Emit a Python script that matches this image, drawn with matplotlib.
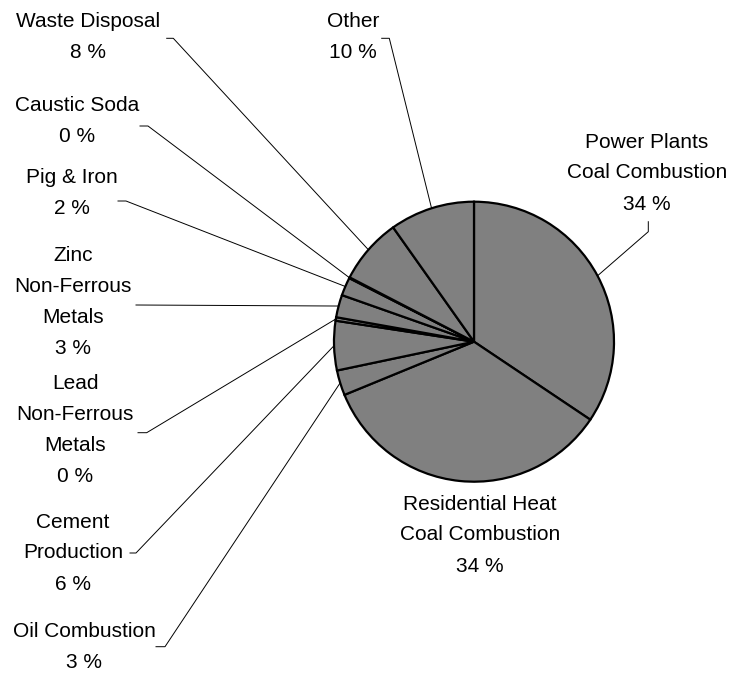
import matplotlib
matplotlib.use("Agg")
import matplotlib.pyplot as plt
import numpy as np

# ─── data ───
sources = [
    "Power Plants\nCoal Combustion",
    "Residential Heat\nCoal Combustion",
    "Oil Combustion",
    "Cement\nProduction",
    "Lead\nNon-Ferrous\nMetals",
    "Zinc\nNon-Ferrous\nMetals",
    "Pig & Iron",
    "Caustic Soda",
    "Waste Disposal",
    "Other",
]
shares = [34.4, 34.4, 2.9, 5.7, 0.4, 2.6, 2.1, 0.1, 7.6, 9.8]

# ─── layout (pixel coords, y from top) ───
W, H = 731, 675
CX, CY, R = 474, 341.7, 140
# label block centre, leader polyline from label side (None = no leader)
label_pos = [
    (647, 173), (480, 535), (84, 647), (73, 553), (75, 430),
    (73, 302), (72, 193), (77, 121), (88, 37), (353, 37),
]
leaders = [
    [(648.3, 221.7), (648.3, 231.7)],
    None,
    [(156, 646.7), (165, 646.7)],
    [(130, 553), (136, 553)],
    [(138, 432.7), (146.7, 432.7)],
    [(136, 305)],
    [(118, 201), (126, 201)],
    [(140, 126), (148, 126)],
    [(166.7, 38.3), (173.3, 38.3)],
    [(381.7, 38.3), (389.3, 38.3)],
]

plt.rcParams["font.family"] = ["Liberation Sans", "DejaVu Sans"]

fig = plt.figure(figsize=(W / 100, H / 100), dpi=100, facecolor="white")
ax = fig.add_axes([0, 0, 1, 1])

wedges, _ = ax.pie(
    shares,
    center=(CX, H - CY),
    radius=R,
    startangle=90,
    counterclock=False,
    colors=["#808080"] * len(shares),
    wedgeprops=dict(edgecolor="black", linewidth=1.6),
)
ax.set_xlim(0, W)
ax.set_ylim(0, H)
ax.set_aspect("equal")
ax.axis("off")

for w, name, val, (lx, ly), lead in zip(wedges, sources, shares, label_pos, leaders):
    ax.text(lx, H - ly, f"{name}\n{val:.0f} %", ha="center", va="center",
            fontsize=15, linespacing=1.8, color="black")
    if lead is None:
        continue
    mid = np.deg2rad((w.theta1 + w.theta2) / 2)
    ex, ey = CX + R * np.cos(mid), (H - CY) + R * np.sin(mid)
    xs = [p[0] for p in lead] + [ex]
    ys = [H - p[1] for p in lead] + [ey]
    ax.plot(xs, ys, color="black", lw=0.7, zorder=0)

fig.savefig("out.png", dpi=100, facecolor="white")
